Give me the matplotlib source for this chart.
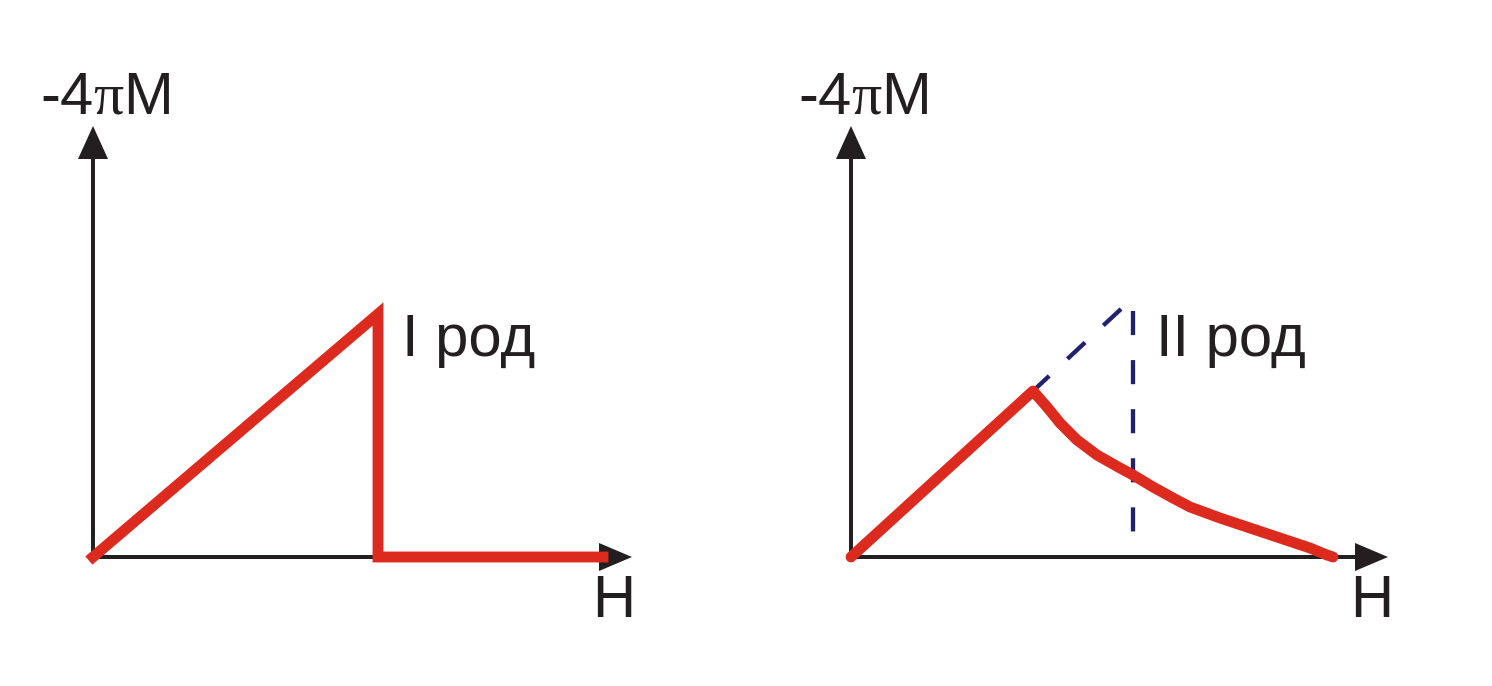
import matplotlib.pyplot as plt

plt.rcParams['font.family'] = ['Liberation Sans', 'DejaVu Sans']
plt.rcParams['mathtext.fontset'] = 'custom'
plt.rcParams['mathtext.rm'] = 'Liberation Serif'
plt.rcParams['mathtext.it'] = 'Liberation Serif:italic'

# ----- data (H, -4piM) in arbitrary units -----
# type I: linear rise, then sudden drop to zero
h_type1 = [0, 28.5, 28.5, 51.0]
m_type1 = [0, 24.3, 0, 0]

# type II: linear rise, then gradual decay
h_type2 = [0, 18.2, 19.6, 20.9, 22.6, 24.6, 26.9, 28.2, 30.2, 32.2, 33.9,
           36.9, 39.9, 42.9, 45.9, 47.6, 48.2]
m_type2 = [0, 16.6, 15.0, 13.4, 11.7, 10.2, 8.9, 8.2, 7.0, 5.9, 5.0,
           3.9, 2.9, 1.9, 0.9, 0.2, 0.0]

# dashed continuation of the linear part and the Hc2 line
h_ext = [27.0, 18.2]
m_ext = [24.8, 16.6]
h_vert = [28.2, 28.2]
m_vert = [24.6, 2.3]

labels = ["I род", "II род"]

red = '#dc2a1e'
ink = '#231f20'
navy = '#23206e'
fs = 43

fig = plt.figure(figsize=(14.92, 6.86), dpi=100)
ax1 = fig.add_axes([0.0, 0.0, 0.5, 1.0])
ax2 = fig.add_axes([0.5, 0.0, 0.5, 1.0])

ax1.set_xlim(-9.3, 65.3)
ax2.set_xlim(-10.5, 64.1)

for ax, x_tip, label in [(ax1, 53.9, labels[0]), (ax2, 53.7, labels[1])]:
    ax.set_ylim(-12.9, 55.7)
    ax.axis('off')
    # axes as arrows
    ax.arrow(0, 0, 0, 43.1, width=0.4, head_width=3.0, head_length=3.3,
             length_includes_head=True, fc=ink, ec='none', zorder=1)
    ax.arrow(0, 0, x_tip, 0, width=0.4, head_width=2.8, head_length=3.3,
             length_includes_head=True, fc=ink, ec='none', zorder=1)
    ax.text(-5.3, 44.4, r'-4$\mathrm{\pi}$M', fontsize=fs, color=ink,
            ha='left', va='baseline')
    ax.text(49.9, -6.0, 'H', fontsize=fs, color=ink, ha='left', va='baseline')

ax1.text(30.9, 20.1, labels[0], fontsize=fs, color=ink, ha='left', va='baseline')
ax2.text(30.5, 20.1, labels[1], fontsize=fs, color=ink, ha='left', va='baseline')

ax1.plot(h_type1, m_type1, color=red, lw=7.8, solid_joinstyle='miter', zorder=3)

ax2.plot(h_ext, m_ext, color=navy, lw=3.1, linestyle=(0, (5.6, 5.8)), zorder=2)
ax2.plot(h_vert, m_vert, color=navy, lw=3.1, linestyle=(0, (5.6, 5.8)), zorder=2)
ax2.plot(h_type2, m_type2, color=red, lw=7.8, solid_joinstyle='round',
         solid_capstyle='round', zorder=3)

fig.savefig('out.png', dpi=100, facecolor='white')
